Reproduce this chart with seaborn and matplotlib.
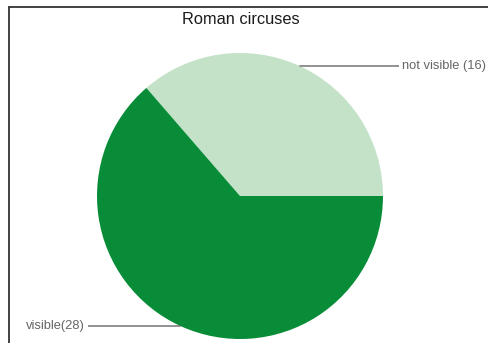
import numpy as np
import matplotlib
matplotlib.use("Agg")
import matplotlib.pyplot as plt
import seaborn as sns

# data
labels = ["not visible", "visible"]
counts = [16, 28]
label_text = ["not visible (16)", "visible(28)"]
colors = ["#c3e2c8", "#088c38"]

sns.set_theme(style="white")
plt.rcParams['font.family'] = ['Liberation Sans', 'DejaVu Sans']

fig = plt.figure(figsize=(4.88, 3.43), dpi=100)
ax = fig.add_axes([0, 0, 1, 1])

# pie centre / radius in pixel units (y up)
cx, cy, r = 240, 343 - 196, 143
wedges, _ = ax.pie(counts, colors=colors, startangle=0, counterclock=True,
                   center=(cx, cy), radius=r, wedgeprops=dict(linewidth=0))
ax.set_xlim(0, 488)
ax.set_ylim(0, 343)
ax.set_aspect("equal")
ax.axis("off")

# leader lines from mid-angle of each wedge
text_pos = [(402, 343 - 66, "left"), (85, 343 - 326, "right")]
for w, txt, (tx, ty, ha) in zip(wedges, label_text, text_pos):
    mid = np.deg2rad((w.theta1 + w.theta2) / 2)
    ax0, ay0 = cx + r * np.cos(mid), cy + r * np.sin(mid)
    bend = ax0 + (3 if ha == "left" else -3)
    end = tx - 3 if ha == "left" else tx + 3
    ax.plot([ax0, bend, end], [ay0, ty, ty], color="#555555", lw=0.9,
            solid_capstyle="butt")
    ax.text(tx, ty, txt, ha=ha, va="center", fontsize=9.3, color="#666666")

ax.text(241, 343 - 19, "Roman circuses", ha="center", va="center",
        fontsize=11.8, color="#1a1a1a")

# frame lines top and left
fig.add_artist(plt.Line2D([9 / 488, 1], [1 - 7 / 343, 1 - 7 / 343],
                          color="#333333", lw=1.3))
fig.add_artist(plt.Line2D([9 / 488, 9 / 488], [0, 1 - 7 / 343],
                          color="#333333", lw=1.3))

fig.savefig("out.png", dpi=100, facecolor="white")
